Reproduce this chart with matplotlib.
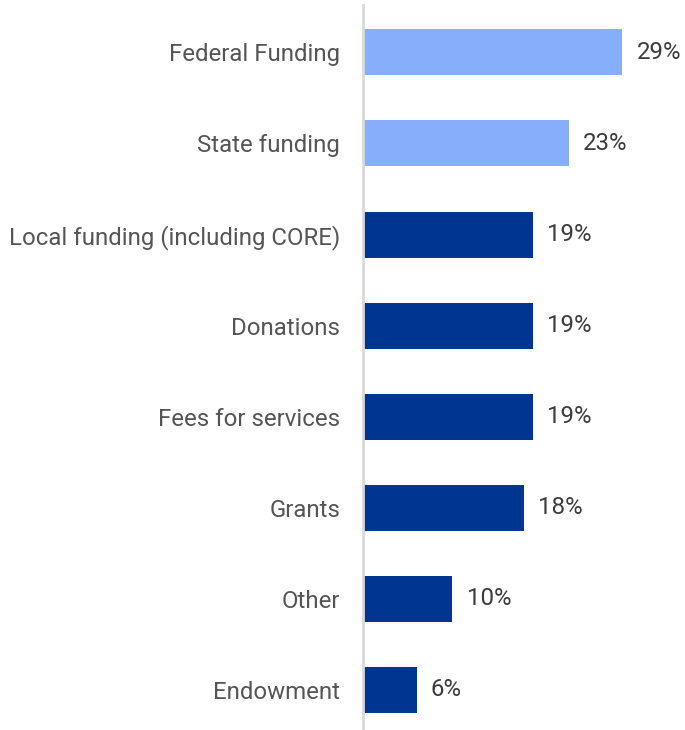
import matplotlib
matplotlib.use("Agg")
import matplotlib.pyplot as plt

categories = ["Federal Funding", "State funding", "Local funding (including CORE)",
              "Donations", "Fees for services", "Grants", "Other", "Endowment"]
values = [29, 23, 19, 19, 19, 18, 10, 6]
highlight = [True, True, False, False, False, False, False, False]

LIGHT = "#86AEFA"
DARK = "#003591"

plt.rcParams['font.family'] = ['Roboto', 'DejaVu Sans']

fig = plt.figure(figsize=(6.85, 7.30), dpi=100)
W, H = 685, 730
ax = fig.add_axes([363 / W, 0, (685 - 363) / W, 725 / H])

ypos = list(range(len(categories)))
colors = [LIGHT if h else DARK for h in highlight]
ax.barh(ypos, values, height=0.505, color=colors, left=0)
ax.set_xlim(0, 36)
ax.set_ylim(7.44, -0.52)

for y, v in zip(ypos, values):
    ax.text(v + 1.6, y, f"{v}%", va="center", ha="left", fontsize=17.3, color="#3c3c3c")

ax.set_yticks(ypos)
ax.set_yticklabels(categories, fontsize=17.3, color="#555555")
ax.tick_params(axis="y", length=0, pad=16.5)
ax.set_xticks([])
for s in ["top", "right", "bottom"]:
    ax.spines[s].set_visible(False)
ax.spines["left"].set_color("#d9d9d9")
ax.spines["left"].set_linewidth(2)

fig.savefig("out.png", dpi=100)
